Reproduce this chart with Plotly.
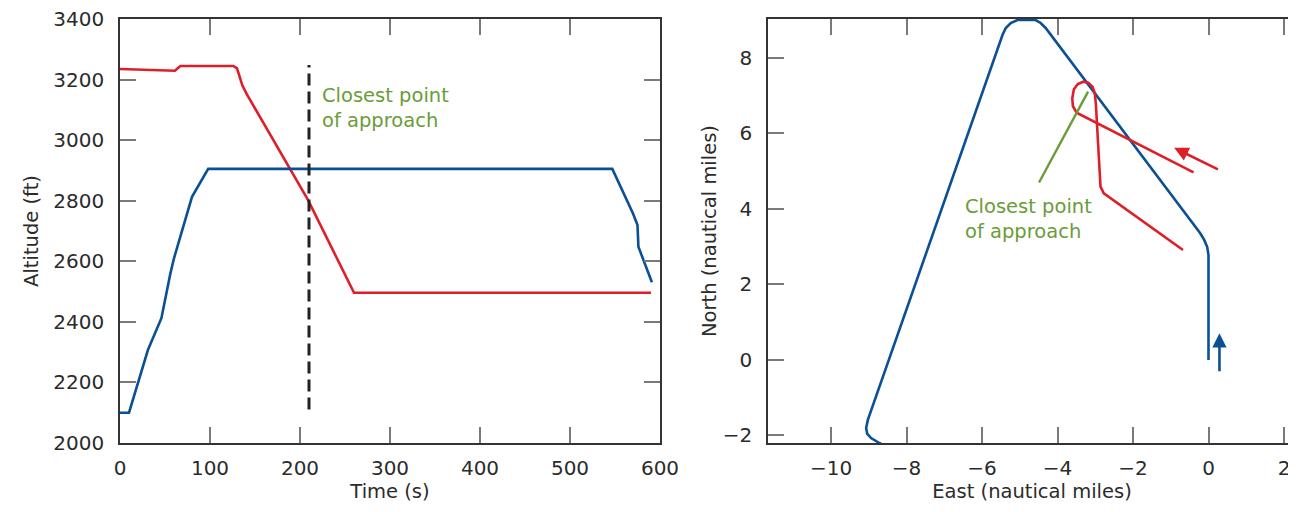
import plotly.graph_objects as go

# ---------------- data ----------------
# Left panel: altitude vs time
time_blue = [0, 10, 31, 46, 56, 60, 80, 98, 547, 570, 575, 576, 591]
alt_blue = [2100, 2100, 2307, 2412, 2560, 2610, 2813, 2905, 2905, 2758, 2720, 2648, 2531]
time_red = [0, 61, 67, 126, 130, 133, 136, 141, 209, 260, 590]
alt_red = [3235, 3229, 3245, 3245, 3237, 3212, 3180, 3151, 2802, 2496, 2496]
cpa_time = [210, 210]
cpa_alt = [2111, 3248]

# Right panel: ground tracks
blue_east = [0, 0, -0.034, -0.114, -0.219, -4.315, -4.447, -4.579, -5.062, -5.239, -5.371, -5.458,
             -9.025, -9.07, -9.04, -8.94, -8.72, -8.54]
blue_north = [0, 2.78, 2.993, 3.179, 3.356, 8.795, 8.927, 9.006, 9.006, 8.927, 8.795, 8.609,
              -1.589, -1.80, -1.96, -2.07, -2.20, -2.30]
red_east = [-0.396, -3.302, -3.495, -3.593, -3.609, -3.567, -3.461, -3.318, -3.186, -3.073,
            -3.012, -2.985, -2.861, -2.774, -0.676]
red_north = [4.972, 6.445, 6.551, 6.728, 6.932, 7.171, 7.311, 7.372, 7.347, 7.240,
             7.065, 6.800, 4.591, 4.416, 2.914]
pointer_east = [-3.19, -4.49]
pointer_north = [7.11, 4.70]
red_arrow = {"tail": (0.29, 5.03), "tip": (-0.91, 5.62)}
blue_arrow = {"tail": (0.29, -0.34), "tip": (0.29, 0.71)}

left_xticks = [0, 100, 200, 300, 400, 500, 600]
left_yticks = [2000, 2200, 2400, 2600, 2800, 3000, 3200, 3400]
right_xticks = [-10, -8, -6, -4, -2, 0, 2]
right_yticks = [-2, 0, 2, 4, 6, 8]
cpa_label = "Closest point<br>of approach"

# ---------------- style ----------------
BLUE = "#0b4f94"
RED = "#de1f2a"
GREEN = "#6a9c38"
FONT = "DejaVu Sans"
TXT = "#2b2b2b"
LINE = "#333333"
TICK = "#7a7a7a"

fig = go.Figure()

fig.add_trace(go.Scatter(x=time_red, y=alt_red, mode="lines",
                         line=dict(color=RED, width=2.6), xaxis="x", yaxis="y", showlegend=False))
fig.add_trace(go.Scatter(x=time_blue, y=alt_blue, mode="lines",
                         line=dict(color=BLUE, width=2.6), xaxis="x", yaxis="y", showlegend=False))
fig.add_trace(go.Scatter(x=cpa_time, y=cpa_alt, mode="lines",
                         line=dict(color="#222222", width=3, dash="12px,6px"),
                         xaxis="x", yaxis="y", showlegend=False))

fig.add_trace(go.Scatter(x=blue_east, y=blue_north, mode="lines",
                         line=dict(color=BLUE, width=2.6),
                         xaxis="x2", yaxis="y2", showlegend=False))
fig.add_trace(go.Scatter(x=red_east, y=red_north, mode="lines",
                         line=dict(color=RED, width=2.6),
                         xaxis="x2", yaxis="y2", showlegend=False))
fig.add_trace(go.Scatter(x=pointer_east, y=pointer_north, mode="lines",
                         line=dict(color=GREEN, width=2.4),
                         xaxis="x2", yaxis="y2", showlegend=False))
# invisible trace for the right-side tick axis
fig.add_trace(go.Scatter(x=[None], y=[None], xaxis="x2", yaxis="y3", showlegend=False))

common = dict(showgrid=False, zeroline=False, showline=True, linecolor=LINE, linewidth=1.6,
              ticks="inside", ticklen=16, tickwidth=1.5, tickcolor=TICK,
              tickfont=dict(family=FONT, size=20, color=TXT), automargin=False,
              ticklabeloverflow="allow")

# page body has an 8px margin: figure is drawn 8px in from the window corner
W, H = 1288, 504
ML, MR, MT, MB = 112, 0, 11, 69
pw = W - ML - MR

fig.update_layout(
    width=W, height=H,
    margin=dict(l=ML, r=MR, t=MT, b=MB, pad=0),
    paper_bgcolor="white", plot_bgcolor="white",
    font=dict(family=FONT, size=19.5, color=TXT),
    showlegend=False,
    xaxis=dict(domain=[0, 540 / pw], range=[0, 600], tickvals=left_xticks, mirror="ticks",
               anchor="y", ticklabelstandoff=6,
               title=dict(text="Time (s)", font=dict(family=FONT, size=19.5, color=TXT), standoff=4),
               **common),
    yaxis=dict(domain=[0, 1], range=[2000, 3400], tickvals=left_yticks, mirror="ticks",
               anchor="x", ticklabelstandoff=10,
               title=dict(text="Altitude (ft)", font=dict(family=FONT, size=19.5, color=TXT), standoff=9),
               **common),
    xaxis2=dict(domain=[648 / pw, 1], range=[-11.67, 2.318], tickvals=right_xticks, mirror="ticks",
                anchor="y2", ticklabelstandoff=6,
                title=dict(text="East (nautical miles)", font=dict(family=FONT, size=19.5, color=TXT), standoff=4),
                **common),
    yaxis2=dict(domain=[0, 1], range=[-2.20, 9.033], tickvals=right_yticks, mirror=False,
                anchor="x2", ticklabelstandoff=10,
                title=dict(text="North (nautical miles)", font=dict(family=FONT, size=19.5, color=TXT), standoff=1),
                **common),
    yaxis3=dict(domain=[0, 1], range=[-2.20, 9.033], tickvals=right_yticks, overlaying="y2",
                side="right", anchor="x2", showline=False, showgrid=False, zeroline=False,
                ticks="inside", ticklen=6, tickwidth=1.5, tickcolor=TICK, showticklabels=False),
)

# annotations: text labels
fig.add_annotation(x=222, y=3106, xref="x", yref="y", text=cpa_label, showarrow=False,
                   xanchor="left", yanchor="middle", align="left",
                   font=dict(family=FONT, size=19.5, color=GREEN))
fig.add_annotation(x=-6.51, y=3.74, xref="x2", yref="y2", text=cpa_label, showarrow=False,
                   xanchor="left", yanchor="middle", align="left",
                   font=dict(family=FONT, size=19.5, color=GREEN))

# arrows
for arr, col in ((red_arrow, RED), (blue_arrow, BLUE)):
    fig.add_annotation(x=arr["tip"][0], y=arr["tip"][1], ax=arr["tail"][0], ay=arr["tail"][1],
                       xref="x2", yref="y2", axref="x2", ayref="y2", text="",
                       showarrow=True, arrowhead=2, arrowsize=1.1, arrowwidth=2.6,
                       arrowcolor=col, standoff=0, startstandoff=0)

fig.write_html("out.html")
